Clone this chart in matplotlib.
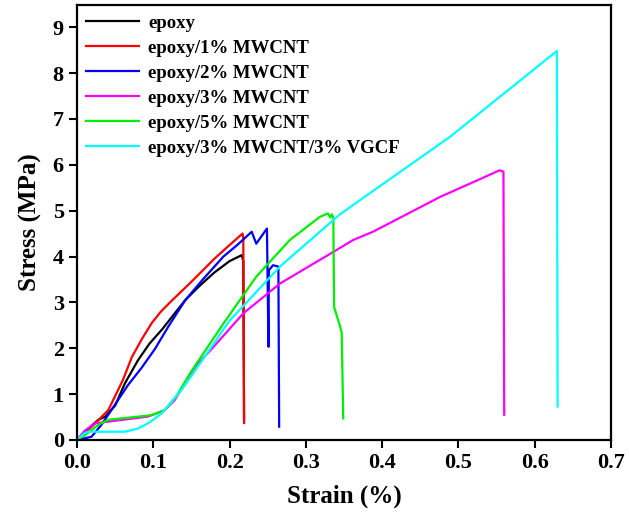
import matplotlib
matplotlib.use("Agg")
import matplotlib.pyplot as plt

# data (strain %, stress MPa)
epoxy_x = [0.0, 0.015, 0.028, 0.037, 0.05, 0.063, 0.08, 0.095, 0.111, 0.13, 0.142, 0.16, 0.18, 0.2, 0.216, 0.218, 0.219]
epoxy_y = [0.0, 0.25, 0.44, 0.51, 0.75, 1.24, 1.74, 2.1, 2.4, 2.8, 3.05, 3.35, 3.65, 3.9, 4.03, 3.9, 0.45]

mw1_x = [0.0, 0.02, 0.041, 0.06, 0.072, 0.085, 0.098, 0.11, 0.125, 0.15, 0.18, 0.2, 0.217, 0.218, 0.219]
mw1_y = [0.0, 0.3, 0.65, 1.3, 1.81, 2.2, 2.55, 2.8, 3.05, 3.45, 3.95, 4.25, 4.5, 4.4, 0.37]

mw2_x = [0.0, 0.019, 0.032, 0.045, 0.067, 0.085, 0.102, 0.12, 0.142, 0.165, 0.192, 0.21, 0.229, 0.235, 0.249, 0.251, 0.2515, 0.257, 0.264, 0.265]
mw2_y = [0.0, 0.07, 0.33, 0.65, 1.2, 1.58, 1.98, 2.48, 3.05, 3.5, 4.0, 4.25, 4.54, 4.28, 4.61, 2.03, 3.70, 3.81, 3.78, 0.29]

mw3_x = [0.0, 0.01, 0.024, 0.041, 0.093, 0.115, 0.128, 0.155, 0.179, 0.218, 0.266, 0.336, 0.362, 0.388, 0.476, 0.53, 0.554, 0.559, 0.560]
mw3_y = [0.0, 0.2, 0.36, 0.40, 0.51, 0.65, 0.87, 1.6, 2.03, 2.76, 3.41, 4.10, 4.36, 4.54, 5.30, 5.7, 5.88, 5.85, 0.55]

mw5_x = [0.0, 0.01, 0.028, 0.041, 0.098, 0.115, 0.13, 0.15, 0.192, 0.235, 0.279, 0.318, 0.329, 0.332, 0.334, 0.336, 0.337, 0.345, 0.347, 0.349]
mw5_y = [0.0, 0.1, 0.33, 0.44, 0.54, 0.65, 0.95, 1.5, 2.54, 3.56, 4.36, 4.86, 4.94, 4.85, 4.92, 4.85, 2.9, 2.47, 2.33, 0.47]

vg_x = [0.0, 0.01, 0.015, 0.063, 0.08, 0.095, 0.111, 0.137, 0.148, 0.2, 0.266, 0.344, 0.371, 0.489, 0.629, 0.630]
vg_y = [0.0, 0.15, 0.18, 0.18, 0.25, 0.38, 0.58, 1.09, 1.35, 2.6, 3.78, 4.91, 5.23, 6.61, 8.48, 0.73]

labels = ["epoxy", "epoxy/1% MWCNT", "epoxy/2% MWCNT", "epoxy/3% MWCNT",
          "epoxy/5% MWCNT", "epoxy/3% MWCNT/3% VGCF"]
colors = ["black", "#ff0000", "#0000ff", "#ff00ff", "#00ee00", "#00ffff"]
series = [(epoxy_x, epoxy_y), (mw1_x, mw1_y), (mw2_x, mw2_y),
          (mw3_x, mw3_y), (mw5_x, mw5_y), (vg_x, vg_y)]

x_ticks = [0.0, 0.1, 0.2, 0.3, 0.4, 0.5, 0.6, 0.7]
y_ticks = [0, 1, 2, 3, 4, 5, 6, 7, 8, 9]

plt.rcParams['font.family'] = ['Liberation Serif', 'DejaVu Serif']
plt.rcParams['font.weight'] = 'bold'

fig = plt.figure(figsize=(6.29, 5.17), dpi=100)
ax = fig.add_axes([0.1224, 0.149, 0.8490, 0.841])

for (x, y), lab, c in zip(series, labels, colors):
    ax.plot(x, y, color=c, lw=1.6, label=lab)

ax.set_xlim(0, 0.7)
ax.set_ylim(0, 9.48)
ax.set_xticks(x_ticks)
ax.set_xticklabels([f"{t:.1f}" for t in x_ticks])
ax.set_yticks(y_ticks)
ax.tick_params(axis='both', direction='out', length=6, width=1.5, labelsize=16)
for side in ax.spines.values():
    side.set_linewidth(1.6)

ax.set_xlabel("Strain (%)", fontsize=18, fontweight='bold', labelpad=8)
ax.set_ylabel("Stress (MPa)", fontsize=18, fontweight='bold', labelpad=8)

leg = ax.legend(loc='upper left', frameon=False,
                handlelength=2.8, handletextpad=0.5, labelspacing=0.42,
                borderaxespad=0.1, prop={'weight': 'bold', 'size': 13.5})

fig.savefig("out.png", dpi=100)
